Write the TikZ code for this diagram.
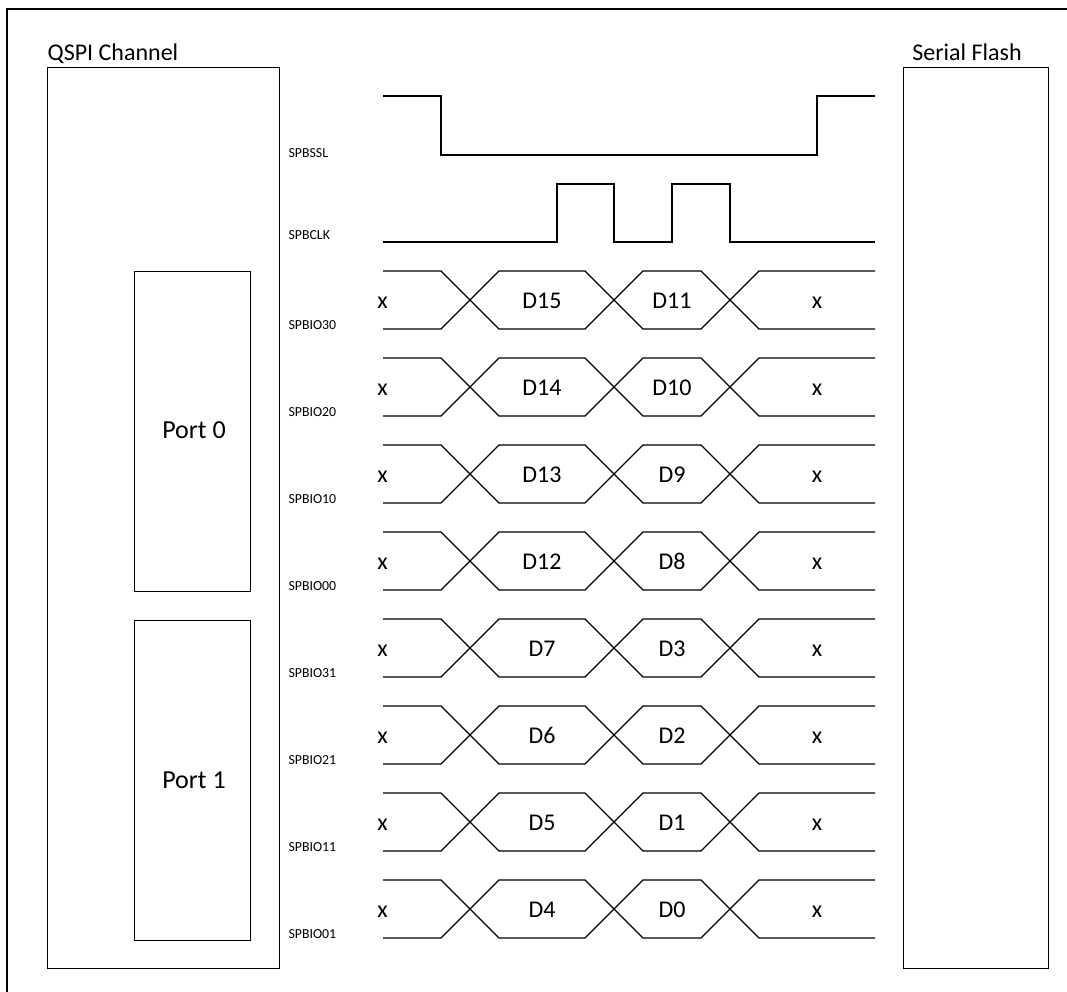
\documentclass[tikz,border=0pt]{standalone}
\usepackage{fontspec}
\setmainfont{Carlito}
\begin{document}
\begin{tikzpicture}[x=1pt,y=-1pt, line width=1.3pt,
 box/.style={draw, line width=1.3pt, inner sep=0pt, anchor=north west},
 big/.style={font=\fontsize{24}{28}\selectfont, inner sep=0pt, anchor=base},
 portlab/.style={font=\fontsize{26}{30}\selectfont, inner sep=0pt, anchor=base},
 small/.style={font=\fontsize{13.8}{16}\selectfont, inner sep=0pt, anchor=west},
 wave/.style={line width=1.3pt, line join=miter}]
\useasboundingbox (0,0) rectangle (1067,992);
\draw (7,992) -- (7,9) -- (1067,9);
% boxes
\node[box, minimum width=232pt, minimum height=901pt] (qspi) at (47,67) {};
\node[box, minimum width=145pt, minimum height=901pt] (flash) at (903,67) {};
\node[box, minimum width=116pt, minimum height=320pt] (port0) at (134,270.5) {};
\node[box, minimum width=116pt, minimum height=320pt] (port1) at (134,620) {};
\node[big, anchor=base west] (qspilab) at (47,61) {QSPI Channel};
\node[big] (flashlab) at (967,61) {Serial Flash};
\node[portlab] (p0lab) at (194,438) {Port 0};
\node[portlab] (p1lab) at (194,788) {Port 1};
% SPBSSL
\draw[wave] (383,96) -- (441,96) -- (441,155) -- (817,155) -- (817,96) -- (875,96);
\node[small] (ssl) at (288,153) {SPBSSL};
% SPBCLK
\draw[wave] (383,242) -- (557,242) -- (557,184) -- (614,184) -- (614,242) -- (672,242) -- (672,184) -- (730,184) -- (730,242) -- (875,242);
\node[small] (clk) at (288,235) {SPBCLK};
% data rows
\foreach \lab/\da/\db [count=\i from 0] in {SPBIO30/D15/D11, SPBIO20/D14/D10, SPBIO10/D13/D9, SPBIO00/D12/D8, SPBIO31/D7/D3, SPBIO21/D6/D2, SPBIO11/D5/D1, SPBIO01/D4/D0}{
  \pgfmathsetmacro\t{271+87*\i}
  \pgfmathsetmacro\b{\t+58}
  \pgfmathsetmacro\m{\t+29}
  \draw[wave] (383,\t) -- (441,\t) -- (499,\b) -- (585,\b) -- (643,\t) -- (701,\t) -- (759,\b) -- (875,\b);
  \draw[wave] (383,\b) -- (441,\b) -- (499,\t) -- (585,\t) -- (643,\b) -- (701,\b) -- (759,\t) -- (875,\t);
  \node[big] (xl\i) at (382.5,\m+8) {x};
  \node[big] (da\i) at (542,\m+8) {\da};
  \node[big] (db\i) at (672,\m+8) {\db};
  \node[big] (xr\i) at (817,\m+8) {x};
  \node[small] (lab\i) at (288,\b-4) {\lab};
}
\end{tikzpicture}
\end{document}
